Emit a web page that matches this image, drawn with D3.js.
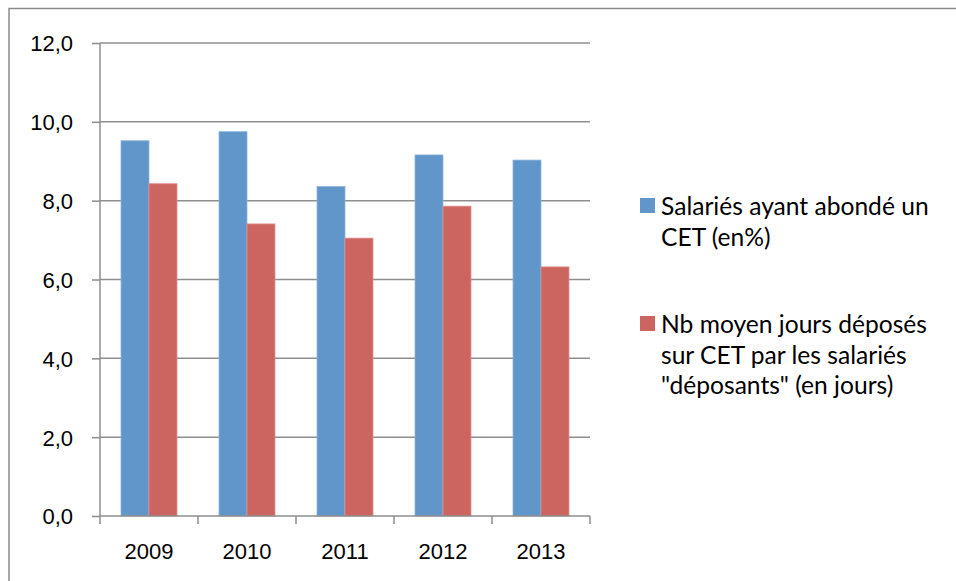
<!DOCTYPE html>
<html lang="fr">
<head>
    <meta charset="utf-8">
    <title>CET</title>
    <style>
body {
    margin: 0;
    background: #fff;
    font-family: Lato, "Open Sans", sans-serif;
}
.tick text {
    font-size: 22px;
    fill: #000;
}
.legend text {
    font-size: 24.6px;
    fill: #000;
}
    </style>
    <script src="https://cdn.jsdelivr.net/npm/d3@7/dist/d3.min.js"></script>
</head>
<body>
<div id="chart"></div>
<script type="text/javascript">
const years = ["2009", "2010", "2011", "2012", "2013"];
const salaries = [9.52, 9.75, 8.36, 9.16, 9.03];
const joursDeposes = [8.43, 7.41, 7.05, 7.86, 6.32];
const seriesNames = ["Salariés ayant abondé un CET (en%)", "Nb moyen jours déposés sur CET par les salariés \"déposants\" (en jours)"];
const legendLines = [
    ["Salariés ayant abondé un", "CET (en%)"],
    ["Nb moyen jours déposés", "sur CET par les salariés", "\"déposants\" (en jours)"]
];
const yTicks = [0, 2, 4, 6, 8, 10, 12];

const width = 956;
const height = 581;
const colors = ["#6096c9", "#cc655f"];
const strokes = ["#8fb4dc", "#e0918c"];

const svg = d3.select("#chart").append("svg")
    .attr("width", width)
    .attr("height", height);

// cadre extérieur (coupé à droite et en bas)
svg.append("rect")
    .attr("x", 9).attr("y", 8.5)
    .attr("width", 980).attr("height", 600)
    .attr("fill", "none")
    .attr("stroke", "#8a8a8a")
    .attr("stroke-width", 1.5);

const plotLeft = 100, plotRight = 590, plotTop = 43, plotBottom = 516;

const y = d3.scaleLinear().domain([0, 12]).range([plotBottom, plotTop]);

// gap width 150% comme dans Excel
const gap = 1.5 / 3.5;
const x0 = d3.scaleBand().domain(years).range([plotLeft, plotRight])
    .paddingInner(gap).paddingOuter(gap / 2);
const x1 = d3.scaleBand().domain([0, 1]).range([0, x0.bandwidth()]);

// grille
svg.append("g")
    .selectAll("line")
    .data(yTicks.filter(d => d > 0))
    .enter().append("line")
    .attr("x1", plotLeft).attr("x2", plotRight)
    .attr("y1", d => y(d)).attr("y2", d => y(d))
    .attr("stroke", "#8e8e8e")
    .attr("stroke-width", 1.5);

// barres
const data = years.map((yr, i) => ({ year: yr, values: [salaries[i], joursDeposes[i]] }));
const groups = svg.append("g")
    .selectAll("g")
    .data(data)
    .enter().append("g")
    .attr("transform", d => "translate(" + x0(d.year) + ",0)");

groups.selectAll("rect")
    .data(d => d.values.map((v, k) => ({ k: k, v: v })))
    .enter().append("rect")
    .attr("x", d => x1(d.k))
    .attr("y", d => y(d.v))
    .attr("width", x1.bandwidth())
    .attr("height", d => y(0) - y(d.v))
    .attr("fill", d => colors[d.k])
    .attr("stroke", d => strokes[d.k])
    .attr("stroke-width", 0.8);

// axe Y
const yAxis = svg.append("g")
    .attr("transform", "translate(" + plotLeft + ",0)")
    .call(d3.axisLeft(y).tickValues(yTicks).tickSize(8).tickPadding(19)
        .tickFormat(d => d3.format(".1f")(d).replace(".", ",")));
yAxis.selectAll("line, path").attr("stroke", "#8e8e8e").attr("stroke-width", 1.5);
yAxis.select(".domain").attr("d", "M0," + plotTop + "V" + plotBottom);
yAxis.selectAll("text").attr("dy", "0.36em");

// axe X : graduations aux limites des catégories
const bounds = years.map(d => x0(d) - (x0.step() - x0.bandwidth()) / 2).concat([plotRight]);
const xAxis = svg.append("g")
    .attr("transform", "translate(0," + plotBottom + ")")
    .call(d3.axisBottom(x0).tickSize(0).tickPadding(27));
xAxis.select(".domain").attr("d", "M" + plotLeft + ",0H" + plotRight)
    .attr("stroke", "#8e8e8e").attr("stroke-width", 1.5);
xAxis.selectAll(".tick text").attr("dy", "0.71em");
xAxis.append("g").selectAll("line")
    .data(bounds)
    .enter().append("line")
    .attr("x1", d => d).attr("x2", d => d)
    .attr("y1", 0).attr("y2", 8)
    .attr("stroke", "#8e8e8e").attr("stroke-width", 1.5);

// légende
const legendY = [198, 316];
const legend = svg.append("g").attr("class", "legend");
legendLines.forEach((lines, k) => {
    const g = legend.append("g").attr("transform", "translate(640," + legendY[k] + ")");
    g.append("rect").attr("width", 15).attr("height", 15).attr("fill", colors[k]);
    g.append("title").text(seriesNames[k]);
    g.selectAll("text")
        .data(lines)
        .enter().append("text")
        .attr("x", 21)
        .attr("y", (d, i) => 17 + i * 30.5)
        .text(d => d);
});
</script>
</body>
</html>
